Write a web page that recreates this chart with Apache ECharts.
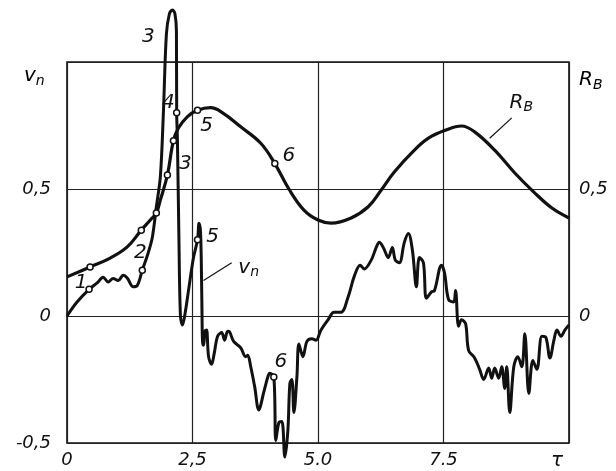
<!DOCTYPE html>
<html><head><meta charset="utf-8">
<script src="https://cdn.jsdelivr.net/npm/echarts@6/dist/echarts.min.js"></script>
<style>html,body{margin:0;padding:0;background:#fff}#c{width:616px;height:471px}</style>
</head><body><div id="c"></div>
<script>
// R_B curve
const rbT = [0,0.46,0.86,1.2,1.48,1.66,1.78,1.86,2.0,2.12,2.22,2.4,2.6,2.86,3.1,3.46,3.86,4.14,4.42,4.72,5.0,5.26,5.66,6.0,6.26,6.52,6.92,7.2,7.52,7.86,8.12,8.52,8.92,9.3,9.66,10.0];
const rbV = [0.154,0.193,0.228,0.272,0.338,0.378,0.406,0.457,0.555,0.69,0.74,0.785,0.81,0.82,0.80,0.745,0.68,0.60,0.50,0.417,0.378,0.366,0.386,0.43,0.496,0.567,0.653,0.70,0.73,0.748,0.725,0.653,0.563,0.488,0.425,0.386];
// v_n curve
const vnT = [0,0.2,0.44,0.6,0.72,0.82,0.92,1.02,1.12,1.2,1.32,1.4,1.5,1.62,1.7,1.78,1.86,1.92,1.98,2.04,2.1,2.15,2.18,2.185,2.2,2.23,2.26,2.3,2.36,2.42,2.52,2.6,2.63,2.66,2.68,2.69,2.7,2.72,2.75,2.78,2.82,2.88,2.93,3.0,3.08,3.14,3.2,3.24,3.32,3.46,3.56,3.6,3.66,3.74,3.82,3.92,4.0,4.04,4.12,4.16,4.22,4.28,4.34,4.4,4.44,4.48,4.52,4.58,4.62,4.7,4.78,4.88,4.96,5.06,5.2,5.32,5.46,5.6,5.72,5.84,5.92,6.06,6.16,6.22,6.3,6.4,6.48,6.54,6.62,6.72,6.8,6.88,6.96,7.02,7.1,7.16,7.26,7.32,7.46,7.52,7.6,7.7,7.74,7.8,7.86,7.94,8.0,8.12,8.22,8.3,8.4,8.46,8.52,8.6,8.66,8.72,8.76,8.82,8.9,8.98,9.06,9.12,9.2,9.28,9.36,9.46,9.54,9.62,9.7,9.76,9.84,9.92,10.0];
const vnV = [0,0.055,0.105,0.13,0.153,0.134,0.148,0.14,0.16,0.15,0.115,0.12,0.18,0.25,0.31,0.43,0.55,0.8,1.11,1.19,1.205,1.19,1.12,0.80,0.69,0.30,0.0,-0.035,0.02,0.1,0.23,0.3,0.365,0.33,0.15,0.0,-0.1,-0.115,-0.06,-0.055,-0.16,-0.19,-0.15,-0.08,-0.065,-0.095,-0.06,-0.063,-0.10,-0.125,-0.16,-0.155,-0.2,-0.28,-0.37,-0.30,-0.24,-0.225,-0.24,-0.49,-0.42,-0.415,-0.555,-0.45,-0.265,-0.25,-0.38,-0.24,-0.11,-0.16,-0.1,-0.09,-0.095,-0.055,-0.015,0.015,0.015,0.075,0.155,0.2,0.185,0.22,0.27,0.29,0.27,0.23,0.27,0.22,0.21,0.29,0.325,0.26,0.115,0.23,0.21,0.07,0.095,0.10,0.2,0.17,0.065,0.055,0.10,-0.04,-0.015,-0.03,-0.135,-0.165,-0.21,-0.25,-0.205,-0.245,-0.205,-0.245,-0.2,-0.285,-0.2,-0.38,-0.2,-0.16,-0.2,-0.07,-0.305,-0.175,-0.21,-0.08,-0.085,-0.165,-0.095,-0.055,-0.08,-0.055,-0.035];
// marked points
const rbMarkT = [0.46,1.48,1.78,2.0,2.12,2.6,4.14];
const rbMarkV = [0.193,0.338,0.406,0.555,0.69,0.81,0.60];
const vnMarkT = [0.44,1.5,1.98,2.185,2.6,4.12];
const vnMarkV = [0.105,0.18,1.11,0.80,0.3,-0.24];
// point numbers / curve names
const noteT = [1.62,2.02,2.36,2.78,4.42,0.28,1.46,2.9,4.26,3.62,9.05];
const noteV = [1.10,0.84,0.60,0.75,0.63,0.13,0.25,0.31,-0.18,0.19,0.84];
const noteText = ['3','4','3','5','6','1','2','5','6','{m|v}{s|n}','{m|R}{s|B}'];
// leader lines
const leadVn = [[3.28,0.21],[2.72,0.14]];
const leadRb = [[8.86,0.78],[8.42,0.70]];
// ticks
const xTicks = {'0':'0','2.5':'2,5','5':'5.0','7.5':'7.5','10':'{t|τ}'};
const yLeftTicks = {'-0.5':'-0,5','0':'0','0.5':'0,5','1':''};
const yRightTicks = {'-0.5':'','0':'0','0.5':'0,5','1':''};

const zip = (a,b)=>a.map((v,i)=>[v,b[i]]);
const FONT = 'DejaVu Sans';
const INK = '#111';
const rich = {
  m:{fontFamily:FONT,fontStyle:'italic',fontSize:20,color:INK},
  s:{fontFamily:FONT,fontStyle:'italic',fontSize:14,color:INK,padding:[10,0,0,0]},
  t:{fontFamily:FONT,fontStyle:'italic',fontSize:20,color:INK,padding:[0,24,0,0]}
};
const chart = echarts.init(document.getElementById('c'));
const lblStyle = {fontFamily:FONT,fontStyle:'italic',fontSize:18,color:INK};
chart.setOption({
  animation:false,
  backgroundColor:'#fff',
  grid:{left:67,right:47,top:62,bottom:28,show:true,borderColor:INK,borderWidth:1.6,backgroundColor:'transparent'},
  xAxis:{type:'value',min:0,max:10,interval:2.5,
    axisLine:{show:false},axisTick:{show:false},
    splitLine:{show:true,lineStyle:{color:'#222',width:1.2}},
    axisLabel:Object.assign({margin:8,formatter:v=>xTicks[String(v)]??'',rich:rich},lblStyle)},
  yAxis:[
    {type:'value',min:-0.5,max:1,interval:0.5,
     axisLine:{show:false},axisTick:{show:false},
     splitLine:{show:true,lineStyle:{color:'#222',width:1.2}},
     axisLabel:Object.assign({margin:16,formatter:v=>yLeftTicks[String(v)]??''},lblStyle)},
    {type:'value',min:-0.5,max:1,interval:0.5,position:'right',
     axisLine:{show:false},axisTick:{show:false},splitLine:{show:false},
     axisLabel:Object.assign({margin:10,formatter:v=>yRightTicks[String(v)]??''},lblStyle)}
  ],
  series:[
    {type:'line',data:zip(rbT,rbV),smooth:0.4,symbol:'none',lineStyle:{color:INK,width:3.2},z:3},
    {type:'line',data:zip(vnT,vnV),smooth:0.35,symbol:'none',clip:false,lineStyle:{color:INK,width:3},z:3},
    {type:'scatter',data:zip(rbMarkT,rbMarkV).concat(zip(vnMarkT,vnMarkV)),symbol:'circle',symbolSize:6,
     itemStyle:{color:'#fff',borderColor:INK,borderWidth:1.5,opacity:1},z:5},
    {type:'scatter',data:noteT.map((t,i)=>({value:[t,noteV[i]],label:{formatter:noteText[i]}})),symbolSize:0,clip:false,
     itemStyle:{color:INK,opacity:1},
     label:{show:true,position:'inside',fontFamily:FONT,fontStyle:'italic',fontSize:20,color:INK,opacity:1,textBorderWidth:0,rich:rich},z:6},
    {type:'line',data:leadVn,symbol:'none',lineStyle:{color:INK,width:1.2}},
    {type:'line',data:leadRb,symbol:'none',lineStyle:{color:INK,width:1.2}}
  ],
  graphic:[
    {type:'text',left:24,top:66,style:{text:'{m|v}{s|n}',rich:rich}},
    {type:'text',left:579,top:70,style:{text:'{m|R}{s|B}',rich:rich}}
  ]
});
</script></body></html>
